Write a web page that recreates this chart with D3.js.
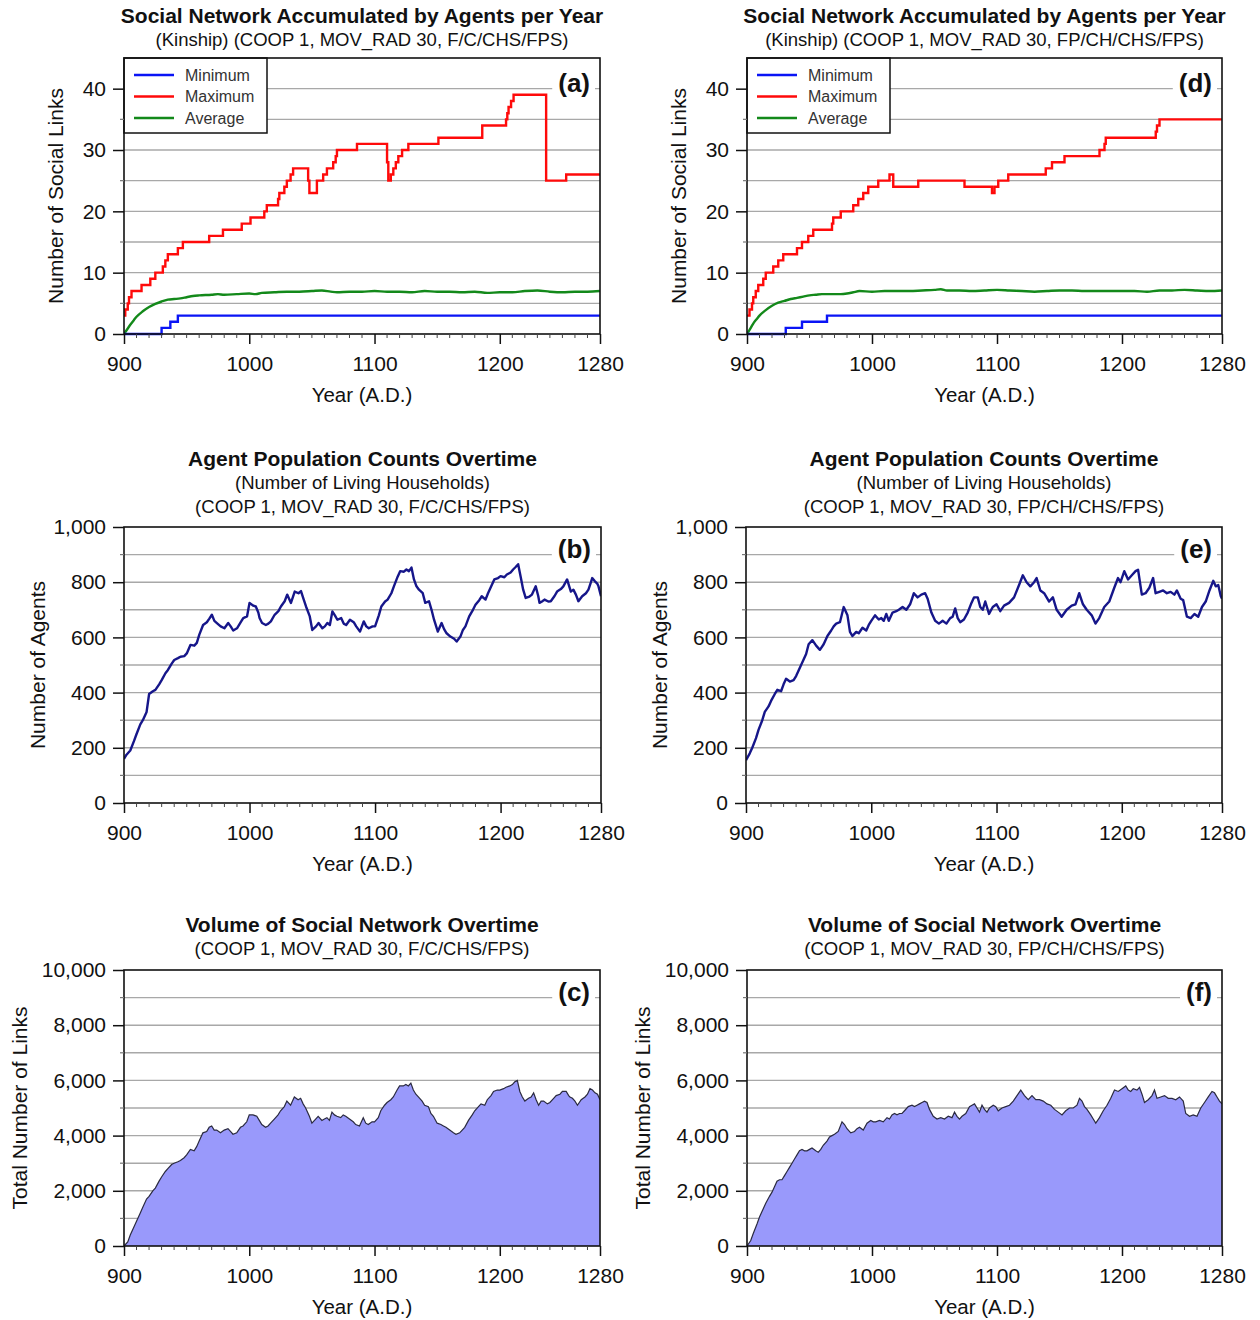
<!DOCTYPE html>
<html>
<head>
<meta charset="utf-8">
<script src="https://cdn.jsdelivr.net/npm/d3@7"></script>
<style>
  body { margin: 0; background: #fff; }
  svg { display: block; font-family: 'Liberation Sans', Arial, Helvetica, sans-serif; }
</style>
</head>
<body>
<svg id="fig" width="1260" height="1320"></svg>
<script>
// ---------- shared axis values ----------
const yearTicks = [900, 1000, 1100, 1200, 1280];
const linkTicks = [0, 10, 20, 30, 40];
const agentTicks = [0, 200, 400, 600, 800, 1000];
const volumeTicks = [0, 2000, 4000, 6000, 8000, 10000];
const legendNames = ["Minimum", "Maximum", "Average"];

// ---------- run F/C/CHS/FPS ----------
// step series: [year at which the value changes, new value]
const minLinksA = [[900,0],[930,1],[937,2],[943,3],[1280,3]];
const maxLinksA = [[900,3],[901,4],[903,5],[904,6],[906,7],[914,8],[921,9],[925,10],[931,11],[933,12],[935,13],
  [943,14],[947,15],[968,16],[979,17],[994,18],[1001,19],[1012,20],[1014,21],[1023,22],[1024,23],[1028,24],
  [1030,25],[1033,26],[1035,27],[1047,25],[1048,23],[1054,25],[1059,26],[1062,27],[1067,28],[1069,29],[1070,30],
  [1086,31],[1110,28],[1111,25],[1113,26],[1115,27],[1117,28],[1119,29],[1122,30],[1127,31],[1151,32],[1186,34],
  [1205,35],[1206,36],[1207,37],[1209,38],[1211,39],[1237,25],[1253,26],[1280,26]];
const avgLinksA = [[900,0],[903,0.9],[905,1.5],[908,2.3],[910,2.8],[915,3.7],[920,4.4],[925,4.9],[930,5.3],[935,5.6],
  [940,5.7],[945,5.8],[950,6.0],[955,6.2],[960,6.3],[970,6.4],[975,6.5],[980,6.4],[990,6.5],[1000,6.6],[1005,6.5],
  [1010,6.7],[1020,6.8],[1030,6.9],[1040,6.9],[1050,7.0],[1058,7.1],[1065,6.9],[1070,6.8],[1080,6.9],[1090,6.9],
  [1100,7.0],[1110,6.9],[1120,6.9],[1130,6.8],[1140,7.0],[1150,6.9],[1160,6.9],[1170,6.8],[1180,6.9],[1190,6.7],
  [1200,6.8],[1210,6.8],[1220,7.0],[1230,7.1],[1240,6.9],[1250,6.8],[1260,6.9],[1270,6.9],[1280,7.0]];
const agentsB = [[900,160],[902,175],[905,190],[908,225],[910,250],[913,285],[915,300],[918,330],[920,395],[923,405],
  [925,410],[928,430],[930,445],[933,470],[935,482],[938,505],[940,518],[943,525],[945,530],[948,532],[950,542],
  [953,573],[956,570],[958,580],[960,610],[963,645],[966,655],[968,668],[970,682],[972,660],[974,652],[977,640],
  [980,633],[983,652],[985,640],[987,625],[990,633],[993,655],[995,670],[998,676],[1000,725],[1003,715],[1005,712],
  [1007,690],[1008,670],[1010,652],[1013,645],[1015,650],[1017,658],[1020,682],[1023,695],[1025,712],[1028,731],
  [1030,755],[1033,725],[1036,766],[1039,760],[1041,768],[1043,740],[1045,712],[1048,676],[1050,627],[1053,640],
  [1055,652],[1058,633],[1060,640],[1062,652],[1064,645],[1066,694],[1068,680],[1070,664],[1073,670],[1075,650],
  [1077,645],[1080,664],[1083,655],[1085,640],[1088,621],[1091,658],[1093,640],[1095,633],[1098,640],[1100,640],
  [1103,680],[1105,712],[1108,730],[1110,737],[1113,760],[1115,785],[1118,820],[1120,840],[1123,838],[1125,846],
  [1127,840],[1129,853],[1131,810],[1133,785],[1135,773],[1138,760],[1140,725],[1143,731],[1145,700],[1147,664],
  [1150,621],[1153,652],[1155,630],[1157,615],[1160,603],[1163,595],[1165,585],[1168,603],[1170,627],[1172,640],
  [1175,676],[1178,700],[1180,718],[1183,735],[1185,749],[1188,737],[1190,760],[1193,790],[1195,810],[1198,815],
  [1200,822],[1203,818],[1205,828],[1208,835],[1210,846],[1212,855],[1214,865],[1216,820],[1218,773],[1220,743],
  [1223,748],[1225,755],[1228,785],[1230,750],[1231,725],[1233,730],[1235,737],[1238,730],[1240,731],[1243,750],
  [1245,766],[1248,775],[1250,785],[1253,810],[1255,780],[1256,766],[1258,773],[1260,755],[1262,731],[1265,749],
  [1268,760],[1270,773],[1272,800],[1273,815],[1275,804],[1277,795],[1278,785],[1280,749]];
const volumeC = [[900,0],[903,150],[905,400],[908,700],[910,900],[913,1200],[915,1400],[918,1700],[920,1800],[923,2000],
  [925,2100],[928,2350],[930,2500],[933,2700],[935,2800],[938,2950],[940,3000],[943,3050],[945,3100],[948,3200],
  [950,3300],[953,3500],[956,3450],[958,3600],[960,3800],[963,4100],[966,4150],[968,4300],[970,4350],[972,4200],
  [974,4200],[977,4100],[980,4200],[983,4250],[985,4150],[987,4050],[990,4100],[993,4300],[995,4350],[998,4500],
  [1000,4750],[1003,4750],[1006,4700],[1008,4550],[1010,4400],[1013,4300],[1015,4350],[1017,4450],[1020,4600],
  [1023,4750],[1025,4900],[1028,5050],[1030,5250],[1033,5100],[1036,5400],[1039,5300],[1041,5350],[1043,5150],
  [1045,5000],[1048,4700],[1050,4450],[1053,4600],[1055,4700],[1058,4550],[1060,4600],[1062,4650],[1064,4550],
  [1066,4850],[1068,4750],[1070,4700],[1073,4650],[1075,4750],[1077,4700],[1080,4600],[1083,4500],[1085,4400],
  [1088,4350],[1091,4650],[1093,4450],[1095,4400],[1098,4500],[1100,4500],[1103,4650],[1105,4900],[1108,5100],
  [1110,5200],[1113,5300],[1115,5400],[1118,5650],[1120,5800],[1123,5800],[1125,5850],[1127,5800],[1129,5900],
  [1131,5650],[1133,5500],[1135,5400],[1138,5250],[1140,5100],[1143,5050],[1145,4800],[1147,4700],[1150,4450],
  [1153,4400],[1155,4350],[1157,4300],[1160,4200],[1163,4100],[1165,4050],[1168,4100],[1170,4200],[1172,4300],
  [1175,4550],[1178,4750],[1180,4900],[1183,5050],[1185,5150],[1188,5100],[1190,5300],[1193,5450],[1195,5600],
  [1198,5650],[1200,5650],[1203,5700],[1205,5750],[1208,5800],[1210,5850],[1212,5950],[1214,6000],[1216,5600],
  [1218,5400],[1220,5250],[1223,5350],[1225,5400],[1227,5550],[1229,5300],[1231,5100],[1233,5250],[1235,5250],
  [1238,5150],[1240,5200],[1243,5350],[1245,5450],[1248,5500],[1250,5600],[1253,5600],[1255,5450],[1256,5400],
  [1258,5350],[1260,5250],[1262,5100],[1265,5300],[1268,5400],[1270,5500],[1272,5700],[1274,5650],[1276,5550],
  [1278,5500],[1280,5300]];

// ---------- run FP/CH/CHS/FPS ----------
const minLinksD = [[900,0],[931,1],[944,2],[964,3],[1280,3]];
const maxLinksD = [[900,3],[902,4],[904,5],[905,6],[907,7],[909,8],[913,9],[915,10],[921,11],[925,12],[929,13],
  [940,14],[944,15],[949,16],[953,17],[968,18],[969,19],[975,20],[985,21],[989,22],[993,23],[997,24],[1005,25],
  [1014,26],[1017,24],[1037,25],[1074,24],[1096,23],[1098,24],[1101,25],[1109,26],[1139,27],[1144,28],[1154,29],
  [1182,30],[1186,31],[1187,32],[1227,33],[1228,34],[1230,35],[1280,35]];
const avgLinksD = [[900,0],[903,1.0],[905,1.7],[908,2.5],[910,3.0],[915,3.9],[920,4.6],[925,5.1],[930,5.4],[935,5.7],
  [940,5.9],[945,6.1],[950,6.3],[955,6.4],[960,6.5],[970,6.5],[975,6.5],[980,6.6],[985,6.8],[990,7.0],[1000,6.9],
  [1010,7.0],[1020,7.0],[1030,7.0],[1040,7.1],[1050,7.2],[1055,7.3],[1060,7.1],[1070,7.1],[1080,7.0],[1090,7.1],
  [1100,7.2],[1110,7.1],[1120,7.0],[1130,6.9],[1140,7.0],[1150,7.1],[1160,7.1],[1170,7.0],[1180,7.0],[1190,7.0],
  [1200,7.0],[1210,7.0],[1220,6.9],[1230,7.1],[1240,7.1],[1250,7.2],[1260,7.1],[1270,7.0],[1280,7.1]];
const agentsE = [[900,155],[903,180],[905,200],[908,235],[910,265],[913,300],[915,330],[918,350],[920,370],[923,395],
  [925,410],[928,405],[930,430],[932,450],[935,440],[938,445],[940,460],[942,480],[944,500],[946,520],[948,540],
  [950,575],[953,590],[956,570],[959,555],[962,575],[965,605],[968,625],[970,640],[972,650],[975,655],[978,710],
  [980,690],[981,680],[983,620],[985,605],[986,610],[988,620],[990,615],[993,635],[996,625],[998,645],[1000,660],
  [1003,680],[1006,665],[1008,670],[1010,660],[1012,685],[1014,660],[1017,690],[1020,695],[1022,700],[1025,710],
  [1028,700],[1031,720],[1034,760],[1037,745],[1040,755],[1043,760],[1045,740],[1048,690],[1051,660],[1054,650],
  [1057,660],[1060,650],[1063,670],[1065,675],[1067,705],[1069,670],[1071,655],[1074,665],[1077,690],[1080,725],
  [1082,745],[1085,745],[1087,710],[1089,700],[1091,730],[1094,685],[1097,710],[1100,720],[1103,695],[1106,715],
  [1110,725],[1114,745],[1118,790],[1121,825],[1124,800],[1127,785],[1130,800],[1132,815],[1135,770],[1138,760],
  [1142,730],[1145,745],[1148,700],[1152,675],[1156,700],[1160,715],[1163,720],[1166,760],[1169,720],[1172,700],
  [1176,680],[1179,650],[1182,670],[1186,710],[1190,730],[1194,780],[1197,815],[1199,800],[1202,840],[1205,810],
  [1208,825],[1211,840],[1213,845],[1216,755],[1219,760],[1222,780],[1225,815],[1227,760],[1230,765],[1233,770],
  [1236,760],[1239,765],[1242,755],[1244,770],[1247,740],[1249,735],[1252,675],[1255,670],[1258,685],[1261,675],
  [1264,710],[1267,730],[1270,770],[1273,805],[1275,785],[1277,790],[1279,750],[1280,740]];
const volumeF = [[900,0],[903,200],[905,450],[908,800],[910,1050],[913,1350],[915,1550],[918,1800],[920,1950],[922,2150],
  [924,2350],[926,2400],[928,2400],[930,2550],[932,2700],[934,2850],[936,3000],[938,3150],[940,3300],[942,3450],
  [944,3500],[946,3450],[948,3450],[950,3500],[952,3550],[955,3450],[957,3400],[959,3500],[961,3650],[964,3800],
  [966,3950],[968,4000],[970,4050],[973,4150],[976,4500],[978,4400],[980,4250],[983,4100],[986,4150],[988,4250],
  [990,4300],[993,4200],[996,4450],[999,4550],[1001,4500],[1003,4500],[1006,4550],[1009,4500],[1012,4650],
  [1014,4600],[1016,4750],[1018,4800],[1020,4750],[1022,4800],[1024,4800],[1026,4900],[1029,5050],[1032,5100],
  [1034,5050],[1036,5100],[1038,5150],[1040,5200],[1042,5250],[1044,5200],[1046,4950],[1049,4700],[1052,4600],
  [1055,4650],[1058,4600],[1061,4700],[1064,4650],[1066,4850],[1068,4700],[1070,4600],[1072,4700],[1075,4800],
  [1078,5050],[1080,5100],[1082,5150],[1084,5000],[1086,4850],[1088,5100],[1090,4950],[1092,4850],[1094,5000],
  [1097,5100],[1099,5050],[1101,4900],[1104,5000],[1107,5050],[1110,5100],[1113,5250],[1116,5450],[1119,5650],
  [1122,5450],[1125,5300],[1128,5450],[1131,5300],[1134,5300],[1137,5250],[1140,5150],[1143,5100],[1146,4950],
  [1149,4850],[1152,4750],[1155,4900],[1158,5000],[1161,5000],[1164,5100],[1166,5350],[1168,5250],[1170,5050],
  [1172,4950],[1175,4750],[1177,4600],[1179,4450],[1182,4650],[1185,4900],[1188,5100],[1191,5350],[1194,5650],
  [1197,5600],[1200,5700],[1203,5800],[1205,5650],[1207,5600],[1209,5700],[1212,5650],[1214,5750],[1216,5500],
  [1218,5200],[1221,5300],[1224,5450],[1226,5650],[1228,5350],[1231,5400],[1234,5450],[1237,5350],[1240,5350],
  [1243,5300],[1246,5400],[1249,5250],[1251,4800],[1254,4700],[1257,4750],[1260,4700],[1263,5000],[1266,5200],
  [1269,5400],[1272,5600],[1274,5550],[1276,5400],[1278,5250],[1280,5150]];

// ---------- panel definitions ----------
const COLORS = { min: "#0a14f5", max: "#ff0a0a", avg: "#13891a", agents: "#16168a", fill: "#9999fb", edge: "#2a2a40" };
const panels = [
  { id: "a", kind: "links", box: [124, 600, 58, 334], ymax: 45, ticks: linkTicks, minor: 5, titleY: 23,
    title: "Social Network Accumulated by Agents per Year",
    sub: ["(Kinship) (COOP 1, MOV_RAD 30, F/C/CHS/FPS)"], ylab: "Number of Social Links",
    series: { min: minLinksA, max: maxLinksA, avg: avgLinksA } },
  { id: "d", kind: "links", box: [747, 1222, 58, 334], ymax: 45, ticks: linkTicks, minor: 5, titleY: 23,
    title: "Social Network Accumulated by Agents per Year",
    sub: ["(Kinship) (COOP 1, MOV_RAD 30, FP/CH/CHS/FPS)"], ylab: "Number of Social Links",
    series: { min: minLinksD, max: maxLinksD, avg: avgLinksD } },
  { id: "b", kind: "agents", box: [124, 601, 527, 803], ymax: 1000, ticks: agentTicks, minor: 100, titleY: 466,
    title: "Agent Population Counts Overtime",
    sub: ["(Number of Living Households)", "(COOP 1, MOV_RAD 30, F/C/CHS/FPS)"], ylab: "Number of Agents",
    series: agentsB },
  { id: "e", kind: "agents", box: [746, 1222, 527, 803], ymax: 1000, ticks: agentTicks, minor: 100, titleY: 466,
    title: "Agent Population Counts Overtime",
    sub: ["(Number of Living Households)", "(COOP 1, MOV_RAD 30, FP/CH/CHS/FPS)"], ylab: "Number of Agents",
    series: agentsE },
  { id: "c", kind: "volume", box: [124, 600, 970, 1246], ymax: 10000, ticks: volumeTicks, minor: 1000, titleY: 932,
    title: "Volume of Social Network Overtime",
    sub: ["(COOP 1, MOV_RAD 30, F/C/CHS/FPS)"], ylab: "Total Number of Links",
    series: volumeC },
  { id: "f", kind: "volume", box: [747, 1222, 970, 1246], ymax: 10000, ticks: volumeTicks, minor: 1000, titleY: 932,
    title: "Volume of Social Network Overtime",
    sub: ["(COOP 1, MOV_RAD 30, FP/CH/CHS/FPS)"], ylab: "Total Number of Links",
    series: volumeF }
];

const svg = d3.select("#fig");
svg.append("rect").attr("width", 1260).attr("height", 1320).attr("fill", "#fff");

function drawPanel(p) {
  const [L, R, T, B] = p.box;
  const g = svg.append("g").attr("class", "panel-" + p.id);
  const x = d3.scaleLinear().domain([900, 1280]).range([L, R]);
  const y = d3.scaleLinear().domain([0, p.ymax]).range([B, T]);

  // horizontal grid
  g.append("g").selectAll("line")
    .data(d3.range(p.minor, p.ymax - p.minor / 2, p.minor))
    .join("line")
    .attr("x1", L).attr("x2", R)
    .attr("y1", d => y(d)).attr("y2", d => y(d))
    .attr("stroke", "#a8a8a8").attr("stroke-width", 1.4);

  // panel letter with white backing
  const lab = g.append("text")
    .attr("x", R - 10).attr("y", y(p.ymax - p.minor) + 3)
    .attr("text-anchor", "end").attr("font-weight", "bold").attr("font-size", 26)
    .attr("fill", "#111").text("(" + p.id + ")");
  const bb = lab.node().getBBox();
  g.insert("rect", "text").attr("x", bb.x - 6).attr("y", bb.y).attr("width", bb.width + 11).attr("height", bb.height)
    .attr("fill", "#fff");

  // data marks
  const clip = "clip-" + p.id;
  g.append("clipPath").attr("id", clip).append("rect").attr("x", L).attr("y", T).attr("width", R - L).attr("height", B - T + 2);
  const marks = g.append("g").attr("clip-path", `url(#${clip})`);
  if (p.kind === "links") {
    const step = d3.line().x(d => x(d[0])).y(d => y(d[1])).curve(d3.curveStepAfter);
    const smooth = d3.line().x(d => x(d[0])).y(d => y(d[1])).curve(d3.curveMonotoneX);
    marks.append("path").attr("d", smooth(p.series.avg)).attr("fill", "none").attr("stroke", COLORS.avg).attr("stroke-width", 2.4);
    marks.append("path").attr("d", step(p.series.min)).attr("fill", "none").attr("stroke", COLORS.min).attr("stroke-width", 2.4);
    marks.append("path").attr("d", step(p.series.max)).attr("fill", "none").attr("stroke", COLORS.max).attr("stroke-width", 2.4);
  } else if (p.kind === "agents") {
    const line = d3.line().x(d => x(d[0])).y(d => y(d[1]));
    marks.append("path").attr("d", line(p.series)).attr("fill", "none").attr("stroke", COLORS.agents)
      .attr("stroke-width", 2.4).attr("stroke-linejoin", "round");
  } else {
    const area = d3.area().x(d => x(d[0])).y0(y(0)).y1(d => y(d[1]));
    const line = d3.line().x(d => x(d[0])).y(d => y(d[1]));
    marks.append("path").attr("d", area(p.series)).attr("fill", COLORS.fill);
    marks.append("path").attr("d", line(p.series)).attr("fill", "none").attr("stroke", COLORS.edge).attr("stroke-width", 1.2);
  }

  // legend
  if (p.kind === "links") {
    const lg = g.append("g");
    lg.append("rect").attr("x", L).attr("y", T).attr("width", 143).attr("height", 75)
      .attr("fill", "#fff").attr("stroke", "#111").attr("stroke-width", 1.5);
    const keys = ["min", "max", "avg"];
    keys.forEach((k, i) => {
      const yy = T + 17 + i * 21.5;
      lg.append("line").attr("x1", L + 10).attr("x2", L + 50).attr("y1", yy).attr("y2", yy)
        .attr("stroke", COLORS[k]).attr("stroke-width", 2.6);
      lg.append("text").attr("x", L + 61).attr("y", yy + 5.5).attr("font-size", 16).attr("fill", "#333")
        .text(legendNames[i]);
    });
  }

  // frame
  g.append("rect").attr("x", L).attr("y", T).attr("width", R - L).attr("height", B - T)
    .attr("fill", "none").attr("stroke", "#111").attr("stroke-width", 1.6);

  // x axis
  const xAxis = d3.axisBottom(x).tickValues(yearTicks).tickFormat(d3.format("d")).tickSize(10).tickPadding(12);
  const gx = g.append("g").attr("transform", `translate(0,${B})`).call(xAxis);
  gx.select(".domain").remove();
  gx.selectAll(".tick line").attr("stroke", "#111").attr("stroke-width", 1.5);
  gx.selectAll(".tick text").attr("font-size", 21).attr("fill", "#111").attr("font-family", null);
  g.append("g").selectAll("line").data(d3.range(910, 1280, 10).filter(v => v % 100 !== 0)).join("line")
    .attr("x1", d => x(d)).attr("x2", d => x(d)).attr("y1", B).attr("y2", B + 4)
    .attr("stroke", "#444").attr("stroke-width", 1);

  // y axis
  const yAxis = d3.axisLeft(y).tickValues(p.ticks).tickFormat(p.ymax >= 1000 ? d3.format(",") : d3.format("d"))
    .tickSize(11).tickPadding(7);
  const gy = g.append("g").attr("transform", `translate(${L},0)`).call(yAxis);
  gy.select(".domain").remove();
  gy.selectAll(".tick line").attr("stroke", "#111").attr("stroke-width", 1.5);
  gy.selectAll(".tick text").attr("font-size", 21).attr("fill", "#111").attr("font-family", null);
  g.append("g").selectAll("line").data(d3.range(p.minor, p.ymax, p.minor * 2)).join("line")
    .attr("x1", L - 4).attr("x2", L).attr("y1", d => y(d)).attr("y2", d => y(d))
    .attr("stroke", "#777").attr("stroke-width", 1.2);

  // axis titles
  g.append("text").attr("x", (L + R) / 2).attr("y", B + 68).attr("text-anchor", "middle")
    .attr("font-size", 20.5).attr("fill", "#111").text("Year (A.D.)");
  const yOff = p.kind === "links" ? 68 : (p.kind === "agents" ? 86 : 104);
  g.append("text").attr("transform", `translate(${L - yOff + 7},${(T + B) / 2}) rotate(-90)`)
    .attr("text-anchor", "middle").attr("font-size", 21).attr("fill", "#111").text(p.ylab);

  // titles
  const cx = (L + R) / 2;
  g.append("text").attr("x", cx).attr("y", p.titleY).attr("text-anchor", "middle")
    .attr("font-weight", "bold").attr("font-size", 21).attr("fill", "#111").text(p.title);
  p.sub.forEach((s, i) => {
    g.append("text").attr("x", cx).attr("y", p.titleY + 23 + i * 24).attr("text-anchor", "middle")
      .attr("font-size", 18.5).attr("fill", "#111").text(s);
  });
}

panels.forEach(drawPanel);
</script>
</body>
</html>
